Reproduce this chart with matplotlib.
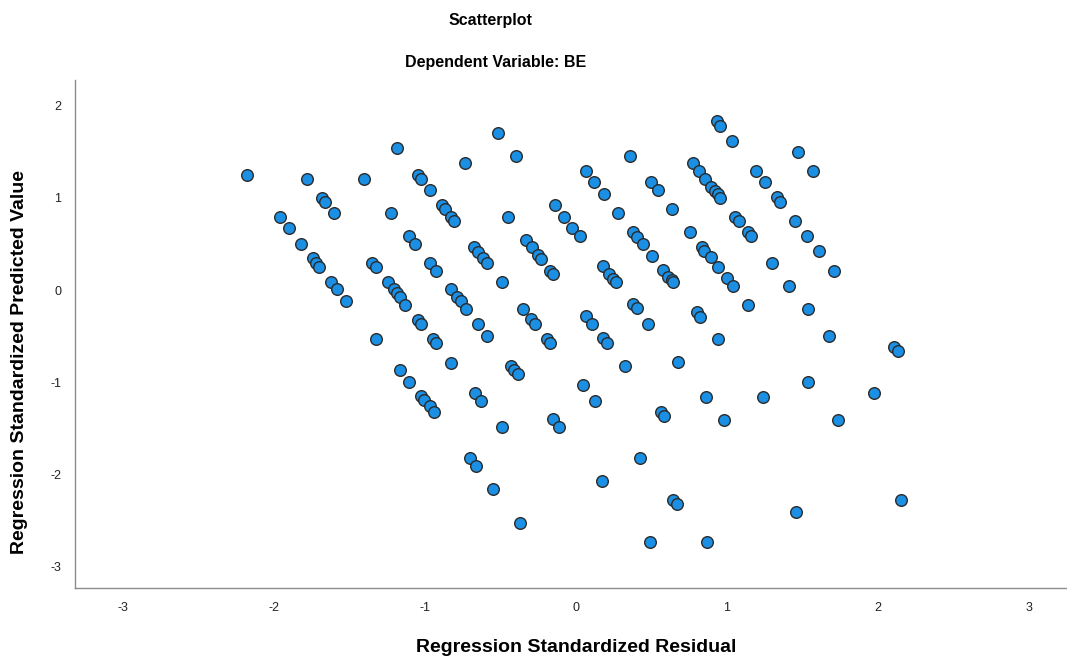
import matplotlib
matplotlib.use("Agg")
import matplotlib.pyplot as plt
import numpy as np

plt.rcParams['font.family'] = ['Liberation Sans', 'DejaVu Sans']
plt.rcParams['axes.unicode_minus'] = False

# Regression standardized residual (x) and standardized predicted value (y)
residual = [
    -2.179, -1.783, -1.684, -1.662, -1.603, -1.960, -1.901, -1.821, -1.744, -1.724,
    -1.700, -1.625, -1.581, -1.523, -1.406, -1.185, -1.227, -1.349, -1.325, -1.247,
    -1.205, -1.185, -1.166, -1.132, -1.325, -1.166, -1.106, -1.048, -1.026, -0.969,
    -0.889, -0.868, -0.828, -0.806, -1.106, -1.066, -0.967, -0.929, -0.735, -0.515,
    -0.395, -0.452, -0.674, -0.651, -0.614, -0.591, -0.492, -0.333, -0.293, -0.250,
    -0.232, -0.172, -0.150, -0.139, -0.077, -0.025, 0.025, -0.828, -0.790, -0.764,
    -0.728, -1.048, -1.026, -0.945, -0.927, -0.651, -0.587, -0.353, -0.298, -0.272,
    -0.194, -0.172, -0.828, -0.430, -0.409, -0.386, -1.026, -1.005, -0.967, -0.942,
    -0.669, -0.629, -0.492, -0.150, -0.113, -0.704, -0.664, -0.548, -0.369,
    0.932, 0.954, 1.035, 0.360, 0.064, 0.121, 0.183, 0.497, 0.541, 0.280,
    0.638, 0.773, 0.815, 0.854, 0.894, 0.921, 0.938, 0.954, 0.379, 0.402,
    0.442, 0.501, 0.757, 0.832, 0.850, 0.894, 0.938, 0.998, 1.042, 1.053,
    1.079, 1.137, 1.157, 1.472, 1.572, 1.192, 1.252, 1.329, 1.353, 1.450,
    1.532, 1.611, 1.711, 1.296, 1.413, 1.137, 1.534, 1.674, 2.108, 2.130,
    1.534, 1.240, 1.972, 0.181, 0.221, 0.247, 0.263, 0.578, 0.611, 0.634,
    0.644, 0.379, 0.402, 0.064, 0.108, 0.479, 0.799, 0.821, 0.181, 0.203,
    0.938, 0.325, 0.677, 0.048, 0.126, 0.859, 0.563, 0.583, 0.982, 1.737,
    0.426, 0.170, 0.644, 0.667, 0.490, 0.866, 1.457, 2.152,
]
predicted = [
    1.247, 1.204, 1.001, 0.958, 0.832, 0.792, 0.669, 0.499, 0.344, 0.296,
    0.253, 0.087, 0.008, -0.119, 1.204, 1.537, 0.832, 0.296, 0.253, 0.084,
    0.008, -0.033, -0.076, -0.163, -0.535, -0.868, -0.995, 1.251, 1.204, 1.085,
    0.919, 0.879, 0.795, 0.745, 0.589, 0.499, 0.296, 0.209, 1.374, 1.706,
    1.457, 0.792, 0.470, 0.415, 0.344, 0.290, 0.084, 0.542, 0.463, 0.380,
    0.333, 0.209, 0.174, 0.919, 0.795, 0.669, 0.586, 0.008, -0.073, -0.116,
    -0.206, -0.325, -0.369, -0.535, -0.578, -0.369, -0.496, -0.206, -0.318, -0.369,
    -0.531, -0.578, -0.788, -0.821, -0.868, -0.911, -1.146, -1.193, -1.258, -1.320,
    -1.114, -1.201, -1.489, -1.402, -1.489, -1.819, -1.909, -2.155, -2.530,
    1.833, 1.782, 1.619, 1.453, 1.291, 1.168, 1.041, 1.168, 1.085, 0.832,
    0.875, 1.374, 1.291, 1.204, 1.120, 1.077, 1.041, 0.995, 0.626, 0.578,
    0.499, 0.372, 0.626, 0.470, 0.426, 0.361, 0.253, 0.127, 0.047, 0.795,
    0.748, 0.629, 0.586, 1.497, 1.291, 1.291, 1.168, 1.005, 0.958, 0.752,
    0.586, 0.420, 0.209, 0.290, 0.043, -0.163, -0.206, -0.496, -0.621, -0.658,
    -0.995, -1.157, -1.120, 0.260, 0.174, 0.119, 0.084, 0.217, 0.144, 0.108,
    0.084, -0.155, -0.198, -0.282, -0.372, -0.369, -0.242, -0.290, -0.524, -0.578,
    -0.535, -0.824, -0.784, -1.030, -1.201, -1.157, -1.320, -1.363, -1.410, -1.410,
    -1.822, -2.072, -2.278, -2.324, -2.736, -2.736, -2.405, -2.278,
]

x_ticks = [-3, -2, -1, 0, 1, 2, 3]
y_ticks = [-3, -2, -1, 0, 1, 2]

W, H = 1067, 663
fig = plt.figure(figsize=(W / 100, H / 100), dpi=100)
ax = fig.add_axes([75 / W, 1 - 588 / H, (W - 75) / W, (588 - 80) / H])

ax.scatter(residual, predicted, s=70, c='#1a8fe3', edgecolors='#2b2b2b',
           linewidths=1.0, zorder=3)

ax.set_xlim(-3.318, 3.252)
ax.set_ylim(-3.232, 2.278)
ax.set_xticks(x_ticks)
ax.set_yticks(y_ticks)
ax.tick_params(length=0, labelsize=9, pad=10, colors='#222222')

for side in ['top', 'right']:
    ax.spines[side].set_visible(False)
for side in ['left', 'bottom']:
    ax.spines[side].set_color('#8c8c8c')
    ax.spines[side].set_linewidth(1.0)

fig.text(490 / W, 1 - 20 / H, 'Scatterplot', ha='center', va='center',
         fontsize=11.5, fontweight='bold')
fig.text(496 / W, 1 - 62 / H, 'Dependent Variable: BE', ha='center', va='center',
         fontsize=11.5, fontweight='bold')
fig.text(576 / W, 1 - 647 / H, 'Regression Standardized Residual', ha='center',
         va='center', fontsize=14, fontweight='bold')
fig.text(20 / W, 1 - 362 / H, 'Regression Standardized Predicted Value', ha='center',
         va='center', fontsize=14, fontweight='bold', rotation=90)

fig.savefig('out.png', dpi=100)
